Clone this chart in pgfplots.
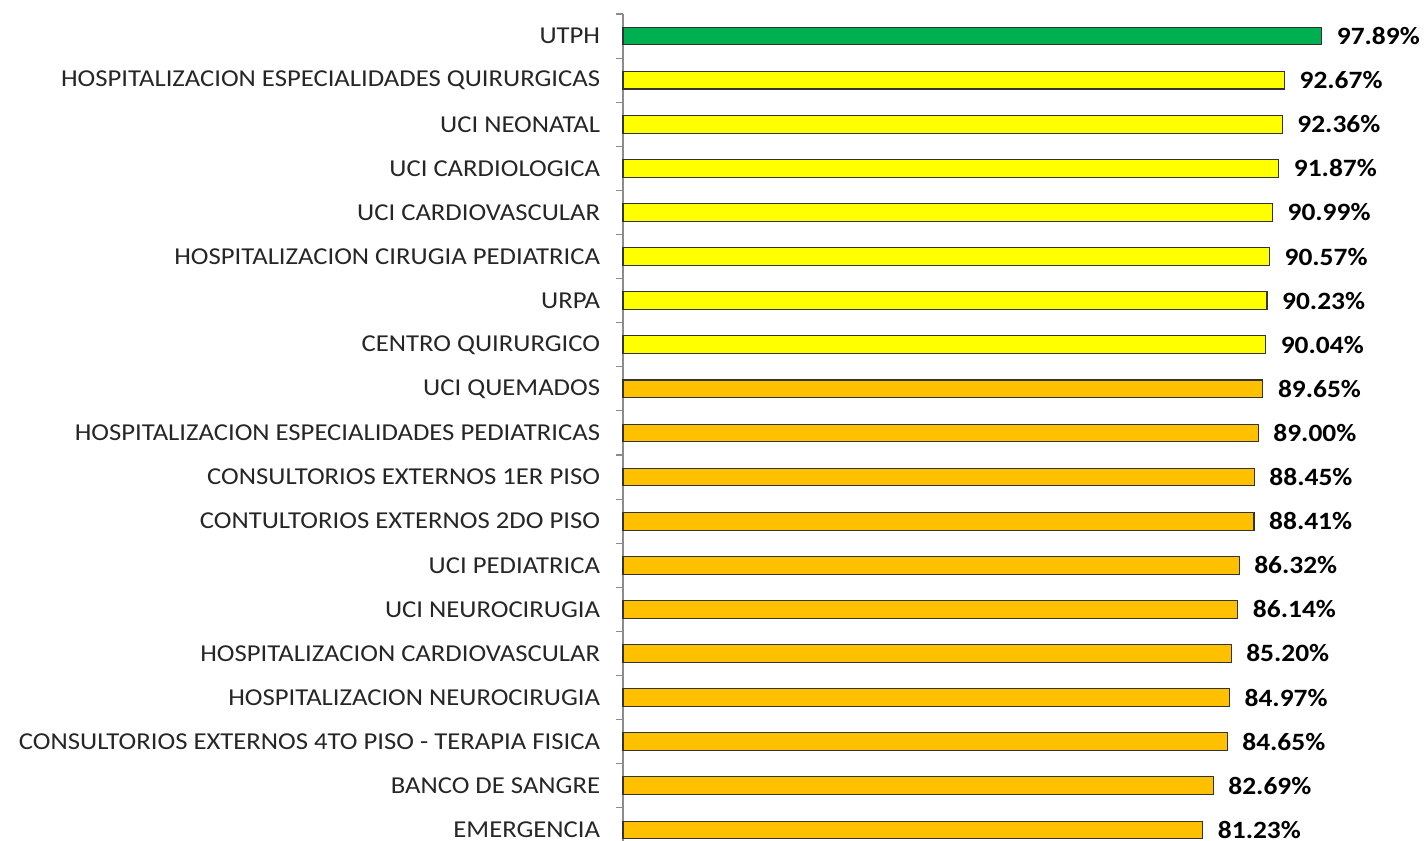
\documentclass[border=0pt]{standalone}
\usepackage{fontspec}
\setmainfont[FakeStretch=1.1]{Carlito}
\usepackage{pgfplots}
\pgfplotsset{compat=1.18}
\definecolor{cgreen}{HTML}{00B050}
\definecolor{cyellow}{HTML}{FFFF00}
\definecolor{corange}{HTML}{FFC000}
\definecolor{cedge}{HTML}{333333}
\definecolor{caxis}{HTML}{8C8C8C}
\definecolor{ctext}{HTML}{262626}
\begin{document}
\begin{tikzpicture}
\begin{axis}[
  xbar, bar shift=0pt, bar width=13.3pt,
  scale only axis, width=535.3pt, height=628.5pt,
  xmin=0, xmax=100, ymin=-0.5, ymax=18.5,
  axis x line=none, axis y line*=left,
  y axis line style={color=caxis, line width=0.8pt},
  ytick={0,...,18},
  yticklabels={EMERGENCIA,BANCO DE SANGRE,CONSULTORIOS EXTERNOS 4TO PISO - TERAPIA FISICA,HOSPITALIZACION NEUROCIRUGIA,HOSPITALIZACION CARDIOVASCULAR,UCI NEUROCIRUGIA,UCI PEDIATRICA,CONTULTORIOS EXTERNOS 2DO PISO,CONSULTORIOS EXTERNOS 1ER PISO,HOSPITALIZACION ESPECIALIDADES PEDIATRICAS,UCI QUEMADOS,CENTRO QUIRURGICO,URPA,HOSPITALIZACION CIRUGIA PEDIATRICA,UCI CARDIOVASCULAR,UCI CARDIOLOGICA,UCI NEONATAL,HOSPITALIZACION ESPECIALIDADES QUIRURGICAS,UTPH},
  major tick length=0pt,
  minor ytick={-0.5,0.5,...,18.5},
  minor tick length=5.5pt,
  tick align=outside,
  minor tick style={color=caxis, line width=0.8pt},
  yticklabel style={font=\fontsize{18.2}{20}\selectfont, text=ctext, anchor=east, inner sep=0pt, xshift=-17pt},
  nodes near coords={\pgfmathprintnumber[fixed,fixed zerofill,precision=2,assume math mode=true]{\pgfplotspointmeta}\%},
  nodes near coords style={font=\fontsize{18.7}{20}\selectfont\bfseries, text=black, anchor=west, inner sep=0pt, xshift=11pt},
  every axis plot/.append style={draw=cedge, line width=0.8pt},
  clip=false,
]
\addplot[fill=cgreen, draw=cedge] coordinates {(97.89,18)};
\addplot[fill=cyellow, draw=cedge] coordinates {(92.67,17) (92.36,16) (91.87,15) (90.99,14) (90.57,13) (90.23,12) (90.04,11)};
\addplot[fill=corange, draw=cedge] coordinates {(89.65,10) (89.00,9) (88.45,8) (88.41,7) (86.32,6) (86.14,5) (85.20,4) (84.97,3) (84.65,2) (82.69,1) (81.23,0)};
\coordinate (bbA) at (axis cs:-87.29,-0.2506);
\coordinate (bbB) at (axis cs:112.23,18.817);
\end{axis}
\pgfresetboundingbox
\path[use as bounding box] (bbA) rectangle (bbB);
\end{tikzpicture}
\end{document}
